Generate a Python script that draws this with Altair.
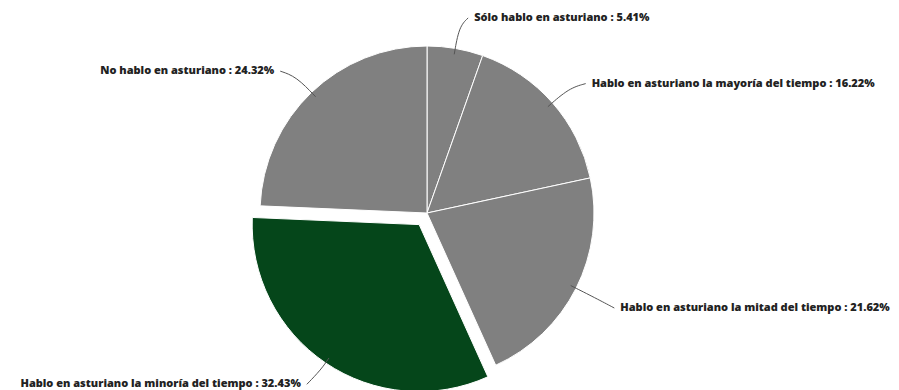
import altair as alt
import pandas as pd

# Share of answers per category, in drawing order (clockwise from 12 o'clock)
categorias = [
    "Sólo hablo en asturiano",
    "Hablo en asturiano la mayoría del tiempo",
    "Hablo en asturiano la mitad del tiempo",
    "Hablo en asturiano la minoría del tiempo",
    "No hablo en asturiano",
]
porcentajes = [5.41, 16.22, 21.62, 32.43, 24.32]
destacada = "Hablo en asturiano la minoría del tiempo"

df = pd.DataFrame({
    "categoria": categorias,
    "valor": porcentajes,
    "orden": list(range(len(categorias))),
})

CX, CY, R = 427, 213, 167
EXPLODE = 14
LABEL_R = 202
LABEL_DY = 4
GAP = 13

base = (
    alt.Chart(df)
    .transform_window(acum="sum(valor)", sort=[{"field": "orden"}],
                      frame=[None, 0])
    .transform_calculate(
        ini="(datum.acum - datum.valor) / 100 * 2 * PI",
        fin="datum.acum / 100 * 2 * PI",
    )
    .transform_calculate(mid="(datum.ini + datum.fin) / 2")
    .transform_calculate(
        off=f"datum.categoria == '{destacada}' ? {EXPLODE} : 0",
        s="sin(datum.mid)",
        c="cos(datum.mid)",
    )
    .transform_calculate(
        cx=f"{CX} + datum.off * datum.s",
        cy=f"{CY} - datum.off * datum.c",
        etiqueta="datum.categoria + ' : ' + format(datum.valor, '.2f') + '%'",
    )
)

slices = base.mark_arc(stroke="white", strokeWidth=1, radius=R).encode(
    x=alt.X("cx:Q", scale=None),
    y=alt.Y("cy:Q", scale=None),
    theta=alt.Theta("ini:Q", scale=None),
    theta2=alt.Theta2("fin:Q"),
    color=alt.condition(
        alt.datum.categoria == destacada,
        alt.value("#05461a"),
        alt.value("#808080"),
    ),
)

# Leader lines: three points from the slice edge out to the label
leaders = (
    base.transform_calculate(
        p0=f"datum.cx + {R - 6} * datum.s",
        p1=f"{CX} + {R + 22} * datum.s",
        p2=f"{CX} + {LABEL_R} * datum.s + (datum.s >= 0 ? 1 : -1) * {GAP - 6}",
    )
    .transform_fold(["p0", "p1", "p2"], as_=["pt", "px"])
    .transform_calculate(
        py=(
            f"datum.pt == 'p0' ? datum.cy - {R - 6} * datum.c : "
            f"datum.pt == 'p1' ? {CY} - {R + 22} * datum.c : "
            f"{CY} + {LABEL_DY} - {LABEL_R} * datum.c"
        )
    )
    .mark_line(color="#555555", strokeWidth=1, interpolate="basis")
    .encode(
        x=alt.X("px:Q", scale=None),
        y=alt.Y("py:Q", scale=None),
        detail="categoria:N",
        order="pt:N",
    )
)

label_pos = base.transform_calculate(
    lx=f"{CX} + {LABEL_R} * datum.s + (datum.s >= 0 ? {GAP} : -{GAP})",
    ly=f"{CY} + {LABEL_DY} - {LABEL_R} * datum.c",
)

text_style = dict(font="Open Sans", fontSize=11, fontWeight=800,
                  color="#222222", baseline="middle")

labels_right = label_pos.transform_filter("datum.s >= 0").mark_text(
    align="left", **text_style
).encode(
    x=alt.X("lx:Q", scale=None),
    y=alt.Y("ly:Q", scale=None),
    text="etiqueta:N",
)

labels_left = label_pos.transform_filter("datum.s < 0").mark_text(
    align="right", **text_style
).encode(
    x=alt.X("lx:Q", scale=None),
    y=alt.Y("ly:Q", scale=None),
    text="etiqueta:N",
)

chart = (
    alt.layer(slices, leaders, labels_right, labels_left)
    .properties(width=899, height=390, padding=0, autosize="none")
    .configure_view(stroke=None)
)

chart.save("out.html", embed_options={"renderer": "svg", "actions": False})
